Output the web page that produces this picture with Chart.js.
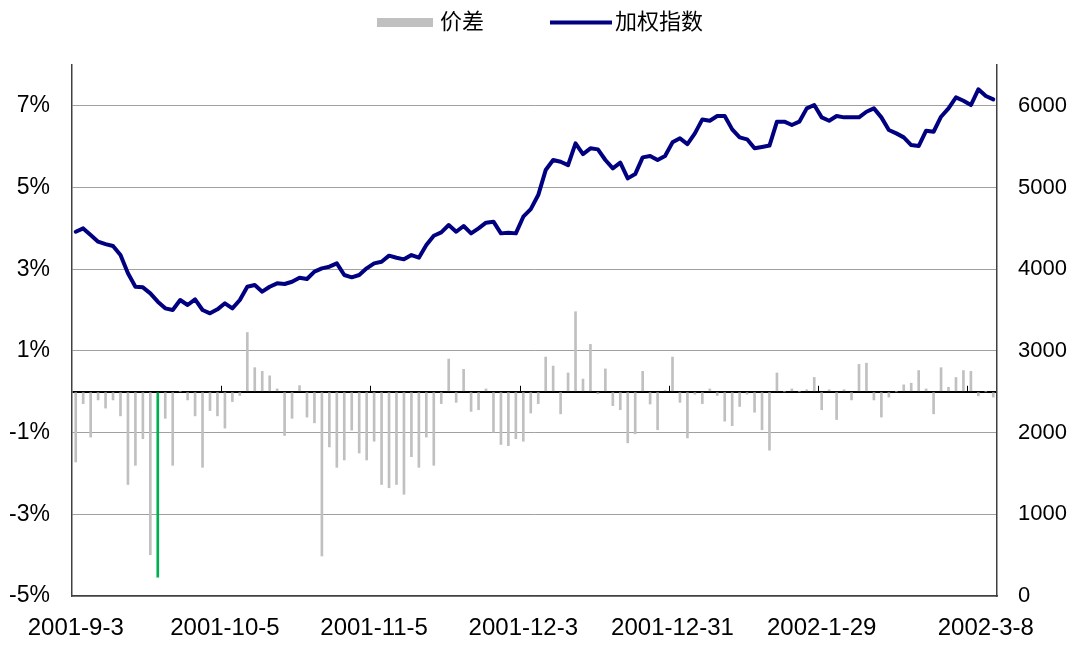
<!DOCTYPE html>
<html>
<head>
<meta charset="utf-8">
<script src="https://cdn.jsdelivr.net/npm/chart.js@4.4.0/dist/chart.umd.min.js"></script>
<style>
  body { margin: 0; background: #fff; }
</style>
</head>
<body>
<canvas id="grafico" width="1086" height="645"></canvas>
<script>
// 交易日
const fechas = [
  '2001-9-3', '2001-9-4', '2001-9-5', '2001-9-6', '2001-9-7', '2001-9-10', '2001-9-11', '2001-9-12', '2001-9-13', '2001-9-14',
  '2001-9-20', '2001-9-21', '2001-9-24', '2001-9-25', '2001-9-26', '2001-9-27', '2001-9-28', '2001-10-2', '2001-10-3', '2001-10-4',
  '2001-10-5', '2001-10-8', '2001-10-9', '2001-10-11', '2001-10-12', '2001-10-15', '2001-10-16', '2001-10-17', '2001-10-18', '2001-10-19',
  '2001-10-22', '2001-10-23', '2001-10-24', '2001-10-25', '2001-10-26', '2001-10-29', '2001-10-30', '2001-10-31', '2001-11-1', '2001-11-2',
  '2001-11-5', '2001-11-6', '2001-11-7', '2001-11-8', '2001-11-9', '2001-11-12', '2001-11-13', '2001-11-14', '2001-11-15', '2001-11-16',
  '2001-11-19', '2001-11-20', '2001-11-21', '2001-11-22', '2001-11-23', '2001-11-26', '2001-11-27', '2001-11-28', '2001-11-29', '2001-11-30',
  '2001-12-3', '2001-12-4', '2001-12-5', '2001-12-6', '2001-12-7', '2001-12-10', '2001-12-11', '2001-12-12', '2001-12-13', '2001-12-14',
  '2001-12-17', '2001-12-18', '2001-12-19', '2001-12-20', '2001-12-21', '2001-12-24', '2001-12-25', '2001-12-26', '2001-12-27', '2001-12-28',
  '2001-12-31', '2002-1-2', '2002-1-3', '2002-1-4', '2002-1-7', '2002-1-8', '2002-1-9', '2002-1-10', '2002-1-11', '2002-1-14',
  '2002-1-15', '2002-1-16', '2002-1-17', '2002-1-18', '2002-1-21', '2002-1-22', '2002-1-23', '2002-1-24', '2002-1-25', '2002-1-28',
  '2002-1-29', '2002-1-30', '2002-1-31', '2002-2-1', '2002-2-4', '2002-2-5', '2002-2-6', '2002-2-7', '2002-2-8', '2002-2-18',
  '2002-2-19', '2002-2-20', '2002-2-21', '2002-2-22', '2002-2-25', '2002-2-26', '2002-2-27', '2002-3-1', '2002-3-4', '2002-3-5',
  '2002-3-6', '2002-3-7', '2002-3-8', '2002-3-11'
];
// 只显示这些位置的日期
const shownTicks = [0, 20, 40, 60, 80, 100, 122];

// 价差 (%)
const jiacha = [
  -1.72, -0.29, -1.11, -0.20, -0.40, -0.20, -0.59, -2.27, -1.80, -1.15,
  -3.99, -4.54, -0.65, -1.80, 0, -0.20, -0.59, -1.85, -0.46, -0.59,
  -0.89, -0.24, -0.09, 1.45, 0.59, 0.50, 0.39, 0.07, -1.07, -0.65,
  0.15, -0.62, -0.76, -4.02, -1.35, -1.85, -1.67, -0.94, -1.50, -1.67,
  -1.21, -2.27, -2.35, -2.27, -2.51, -1.59, -1.85, -1.11, -1.80, -0.29,
  0.80, -0.26, 0.55, -0.48, -0.44, 0.07, -0.99, -1.29, -1.32, -1.15,
  -1.21, -0.52, -0.29, 0.85, 0.63, -0.54, 0.46, 1.96, 0.31, 1.16,
  -0.05, 0.56, -0.34, -0.44, -1.25, -1.03, 0.50, -0.30, -0.93, 0.03,
  0.85, -0.26, -1.13, -0.06, -0.29, 0.07, -0.09, -0.72, -0.83, -0.36,
  -0.06, -0.50, -0.93, -1.43, 0.46, 0, 0.07, 0, 0.05, 0.35,
  -0.44, 0.05, -0.68, 0.05, -0.20, 0.67, 0.70, -0.20, -0.62, -0.13,
  0, 0.17, 0.21, 0.52, 0.07, -0.54, 0.59, 0.11, 0.35, 0.52,
  0.50, -0.10, 0, -0.13
];
const highlightIdx = 11; // 绿色那一根

// 加权指数
const zhishu = [
  4459, 4500, 4419, 4337, 4308, 4284, 4174, 3950, 3786, 3778,
  3705, 3603, 3521, 3501, 3623, 3562, 3631, 3501, 3460, 3509,
  3583, 3521, 3623, 3786, 3807, 3725, 3786, 3827, 3819, 3847,
  3895, 3880, 3970, 4011, 4031, 4072, 3929, 3901, 3929, 4011,
  4072, 4092, 4166, 4141, 4121, 4174, 4141, 4296, 4410, 4451,
  4541, 4459, 4529, 4439, 4500, 4570, 4582, 4439, 4447, 4439,
  4643, 4735, 4908, 5214, 5337, 5316, 5275, 5541, 5410, 5480,
  5467, 5337, 5235, 5304, 5112, 5165, 5369, 5386, 5337, 5386,
  5553, 5602, 5532, 5663, 5834, 5818, 5875, 5875, 5712, 5614,
  5590, 5480, 5496, 5514, 5806, 5806, 5765, 5806, 5969, 6010,
  5859, 5818, 5875, 5859, 5859, 5859, 5928, 5969, 5859, 5704,
  5663, 5614, 5520, 5508, 5696, 5683, 5867, 5969, 6104, 6063,
  6010, 6202, 6120, 6079
];

const leftTicks = [-5, -3, -1, 0, 1, 3, 5, 7];
const rightTicks = [0, 1000, 2000, 3000, 4000, 5000, 6000];

const fuente = '"Liberation Sans", Arial, sans-serif';
const fuenteCJK = '"Noto Sans CJK SC", sans-serif';

// leyenda y marcas sobre la línea cero
const extras = {
  id: 'extras',
  afterDraw(chart) {
    const ctx = chart.ctx;
    const x = chart.scales.x;
    const y0 = chart.scales.y.getPixelForValue(0);
    ctx.save();
    ctx.strokeStyle = '#000';
    ctx.lineWidth = 1;
    for (let i = 20; i < fechas.length; i += 20) {
      const px = Math.round((x.getPixelForValue(i - 1) + x.getPixelForValue(i)) / 2) + 0.5;
      ctx.beginPath();
      ctx.moveTo(px, y0 - 6);
      ctx.lineTo(px, y0);
      ctx.stroke();
    }

    const ds = chart.data.datasets;
    ctx.font = '22px ' + fuenteCJK;
    ctx.textBaseline = 'middle';
    ctx.fillStyle = '#c0c0c0';
    ctx.fillRect(377, 18, 56, 9);
    ctx.fillStyle = '#000';
    ctx.fillText(ds[1].label, 440, 21);
    ctx.strokeStyle = ds[0].borderColor;
    ctx.lineWidth = 4;
    ctx.beginPath();
    ctx.moveTo(550, 22.5);
    ctx.lineTo(612, 22.5);
    ctx.stroke();
    ctx.fillText(ds[0].label, 615, 21);
    ctx.restore();
  }
};

const ctx = document.getElementById('grafico').getContext('2d');
const grafico = new Chart(ctx, {
  type: 'bar',
  data: {
    labels: fechas,
    datasets: [
      {
        type: 'line',
        label: '加权指数',
        data: zhishu,
        yAxisID: 'y1',
        borderColor: '#000080',
        borderWidth: 4,
        borderJoinStyle: 'round',
        borderCapStyle: 'round',
        pointRadius: 0,
        tension: 0,
        order: 0
      },
      {
        label: '价差',
        data: jiacha,
        yAxisID: 'y',
        backgroundColor: jiacha.map((v, i) => i === highlightIdx ? '#00b050' : '#c0c0c0'),
        barThickness: 2,
        order: 1
      }
    ]
  },
  options: {
    responsive: false,
    animation: false,
    layout: { padding: { top: 65 } },
    plugins: {
      legend: { display: false },
      tooltip: { enabled: false }
    },
    scales: {
      x: {
        offset: true,
        grid: { display: false },
        border: { display: true, color: '#404040', width: 1.5 },
        ticks: {
          autoSkip: false,
          maxRotation: 0,
          minRotation: 0,
          padding: 10,
          color: '#000',
          font: { family: fuente, size: 24 },
          callback: (val, i) => shownTicks.includes(i) ? fechas[i] : ''
        },
        afterFit: s => { s.height = 49; }
      },
      y: {
        position: 'left',
        min: -5,
        max: 8,
        afterBuildTicks: s => { s.ticks = leftTicks.map(v => ({ value: v })); },
        grid: {
          drawTicks: false,
          color: c => c.tick.value === 0 ? '#000' : '#a0a0a0',
          lineWidth: c => c.tick.value === 0 ? 2 : 1
        },
        border: { display: true, color: '#404040', width: 1.5 },
        ticks: {
          padding: 22,
          color: '#000',
          font: { family: fuente, size: 23 },
          callback: v => v === 0 ? '' : v + '%'
        },
        afterFit: s => { s.width = 72; }
      },
      y1: {
        position: 'right',
        min: 0,
        max: 6500,
        afterBuildTicks: s => { s.ticks = rightTicks.map(v => ({ value: v })); },
        grid: { display: false, drawTicks: false },
        border: { display: true, color: '#404040', width: 1.5 },
        ticks: {
          padding: 21,
          color: '#000',
          font: { family: fuente, size: 22 },
          callback: v => String(v)
        },
        afterFit: s => { s.width = 89; }
      }
    }
  },
  plugins: [extras]
});
</script>
</body>
</html>
